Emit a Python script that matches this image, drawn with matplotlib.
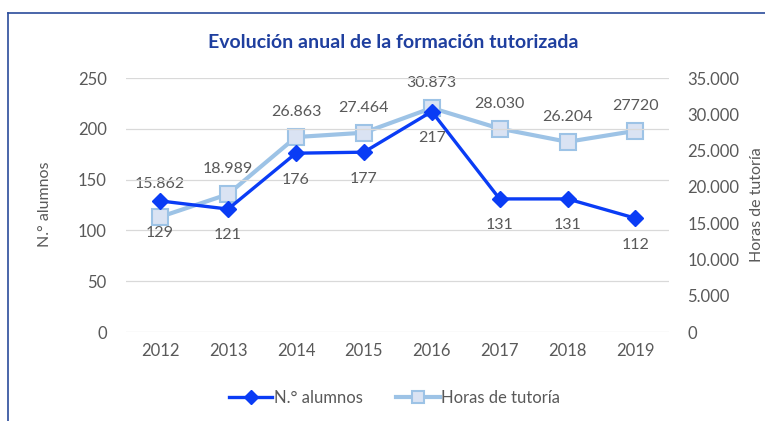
import matplotlib.pyplot as plt
from matplotlib.lines import Line2D

years = ["2012", "2013", "2014", "2015", "2016", "2017", "2018", "2019"]
alumnos = [129, 121, 176, 177, 217, 131, 131, 112]
horas = [15862, 18989, 26863, 27464, 30873, 28030, 26204, 27720]
horas_labels = ["15.862", "18.989", "26.863", "27.464", "30.873", "28.030", "26.204", "27720"]
left_ticks = [0, 50, 100, 150, 200, 250]
right_ticks = [0, 5000, 10000, 15000, 20000, 25000, 30000, 35000]
right_tick_labels = ["0", "5.000", "10.000", "15.000", "20.000", "25.000", "30.000", "35.000"]

plt.rcParams['font.family'] = ['Lato', 'DejaVu Sans']
gris = "#595959"
azul = "#0A3CF5"
celeste = "#9DC3E6"

fig = plt.figure(figsize=(7.65, 4.21), dpi=100)
ax = fig.add_axes([0.165, 0.2114, 0.710, 0.6033])
ax2 = ax.twinx()

x = list(range(len(years)))

# horas (eje derecho) por detrás, alumnos por delante
ax.set_zorder(ax2.get_zorder() + 1)
ax.patch.set_visible(False)

ax2.plot(x, horas, color=celeste, lw=3, marker="s", ms=11,
         mfc="#DAE3F3", mec=celeste, mew=1.5)
ax.plot(x, alumnos, color=azul, lw=2.4, marker="D", ms=8, mfc=azul, mec=azul)

# en 2012 las etiquetas quedan más separadas para no pisar los marcadores
for i, v in enumerate(alumnos):
    dy = -23 if i == 0 else -19
    ax.annotate(str(v), (i, v), xytext=(0, dy), textcoords="offset points",
                ha="center", va="center", fontsize=11.5, color=gris)
for i, v in enumerate(horas):
    dy = 24 if i == 0 else 18
    ax2.annotate(horas_labels[i], (i, v), xytext=(0, dy), textcoords="offset points",
                 ha="center", va="center", fontsize=11.5, color=gris)

ax.set_xlim(-0.5, len(years) - 0.5)
ax.set_ylim(0, 250)
ax2.set_ylim(0, 35000)
ax.set_xticks(x)
ax.set_xticklabels(years)
ax.set_yticks(left_ticks)
ax2.set_yticks(right_ticks)
ax2.set_yticklabels(right_tick_labels)

ax.grid(axis="y", color="#D9D9D9", lw=0.9)
ax.set_axisbelow(True)
for a in (ax, ax2):
    for s in a.spines.values():
        s.set_visible(False)
    a.tick_params(length=0, labelsize=12, colors=gris, pad=8)
ax.tick_params(axis="y", pad=14)
ax2.tick_params(axis="y", pad=13)

fig.text(0.059, 0.515, "N.° alumnos", rotation=90, ha="center", va="center",
         fontsize=11.5, color=gris)
fig.text(0.99, 0.515, "Horas de tutoría", rotation=90, ha="center", va="center",
         fontsize=11.5, color=gris)

fig.text(0.514, 0.9, "Evolución anual de la formación tutorizada", ha="center",
         va="center", fontsize=14, fontweight="bold", color="#1F3F9F")

handles = [Line2D([], [], color=azul, lw=2.4, marker="D", ms=7, mfc=azul),
           Line2D([], [], color=celeste, lw=3, marker="s", ms=9,
                  mfc="#DAE3F3", mec=celeste, mew=1.5)]
leg = fig.legend(handles, ["N.° alumnos", "Horas de tutoría"], loc="center",
                 bbox_to_anchor=(0.516, 0.055), ncol=2, frameon=False,
                 fontsize=12, handlelength=2.6, handletextpad=0.1, columnspacing=2.0)
for t in leg.get_texts():
    t.set_color(gris)

# marco del gráfico
fig.add_artist(Line2D([8 / 765, 8 / 765], [0, 1 - 13 / 421], color="#2A4B9B",
                      lw=1.2, transform=fig.transFigure))
fig.add_artist(Line2D([8 / 765, 1], [1 - 13 / 421, 1 - 13 / 421], color="#2A4B9B",
                      lw=1.2, transform=fig.transFigure))

fig.savefig("out.png", dpi=100)
